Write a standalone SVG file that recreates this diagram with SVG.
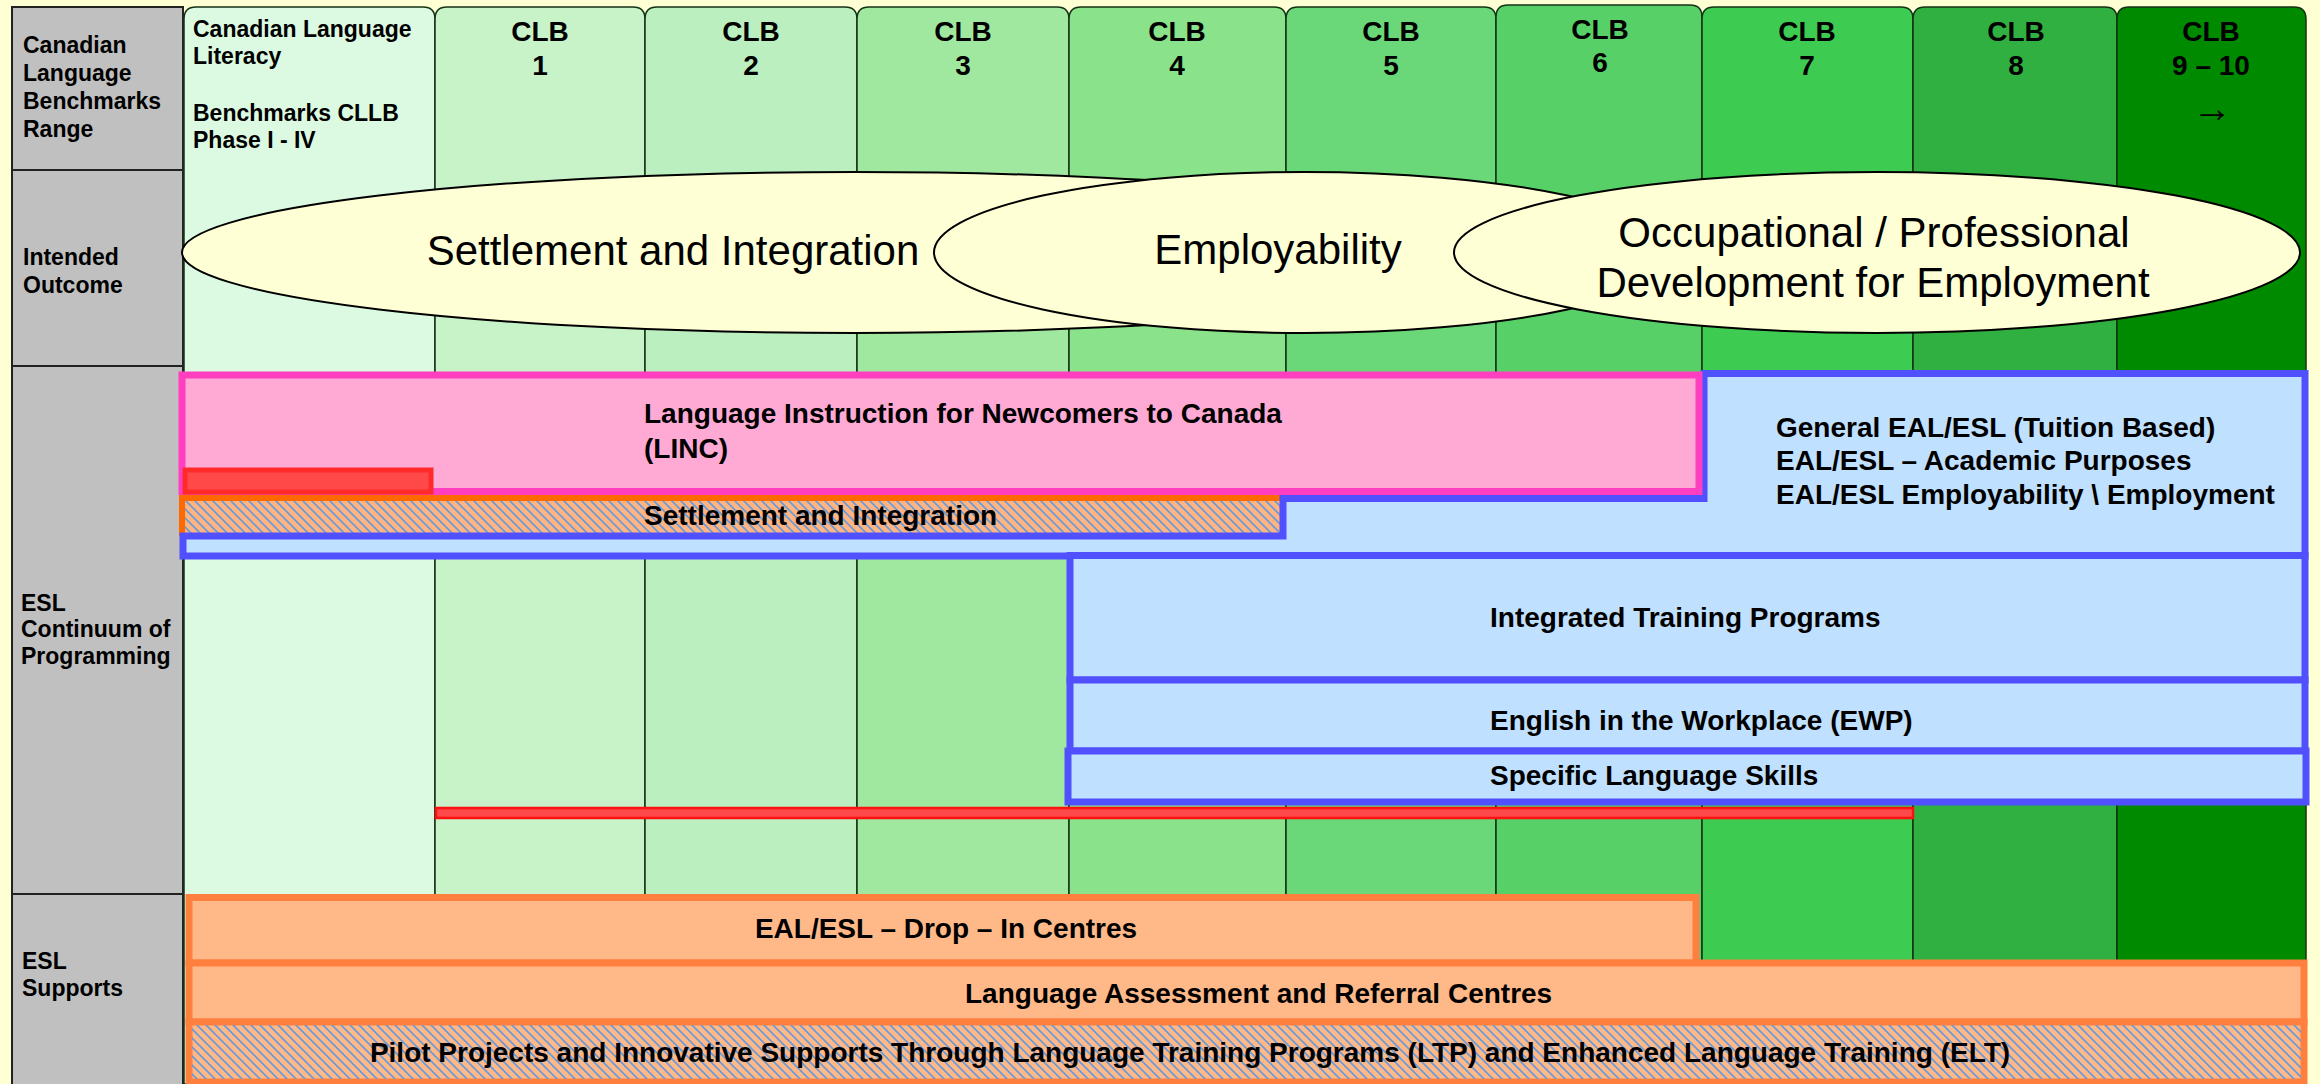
<svg xmlns="http://www.w3.org/2000/svg" width="2320" height="1084" viewBox="0 0 2320 1084">
<defs>
<pattern id="hatch" patternUnits="userSpaceOnUse" width="9" height="9">
<path d="M-1,-1 L10,10 M-1,8 L1,10 M8,-1 L10,1" stroke="#6A9BD8" stroke-width="1.7"/>
</pattern>
<style>
.lbl{font-family:"Liberation Sans",Arial,sans-serif;font-weight:bold;font-size:23px;fill:#000}
.hdr{font-family:"Liberation Sans",Arial,sans-serif;font-weight:bold;font-size:28px;fill:#000;text-anchor:middle}
.bar{font-family:"Liberation Sans",Arial,sans-serif;font-weight:bold;font-size:28px;fill:#000}
.big{font-family:"Liberation Sans",Arial,sans-serif;font-size:42px;fill:#000;text-anchor:middle}
.gray{fill:#C0C0C0;stroke:#222;stroke-width:2}
.col{stroke:#143214;stroke-width:1.5}
.ell{fill:#FFFFD6;stroke:#000;stroke-width:2}
.blue{fill:#C0E0FF;stroke:#5050FF;stroke-width:7}
.sup{fill:#FFB888;stroke:#FF7F3F;stroke-width:7}
</style>
</defs>
<rect x="0" y="0" width="2320" height="1084" fill="#FFFFD4"/>

<g id="label-column">
<rect class="gray" x="12" y="7" width="171" height="163"/>
<rect class="gray" x="12" y="170" width="171" height="196"/>
<rect class="gray" x="12" y="366" width="171" height="528"/>
<rect class="gray" x="12" y="894" width="171" height="200"/>
<text class="lbl" x="23" y="53">Canadian</text>
<text class="lbl" x="23" y="81">Language</text>
<text class="lbl" x="23" y="109">Benchmarks</text>
<text class="lbl" x="23" y="137">Range</text>
<text class="lbl" x="23" y="265">Intended</text>
<text class="lbl" x="23" y="293">Outcome</text>
<text class="lbl" x="21" y="611">ESL</text>
<text class="lbl" x="21" y="637">Continuum of</text>
<text class="lbl" x="21" y="664">Programming</text>
<text class="lbl" x="22" y="969">ESL</text>
<text class="lbl" x="22" y="996">Supports</text>
</g>

<g id="columns">
<path class="col" fill="#DCFAE1" d="M184,1084 V19 Q184,7 196,7 H423 Q435,7 435,19 V1084 Z"/>
<path class="col" fill="#C8F2C8" d="M435,1084 V19 Q435,7 447,7 H633 Q645,7 645,19 V1084 Z"/>
<path class="col" fill="#BCEFBF" d="M645,1084 V19 Q645,7 657,7 H845 Q857,7 857,19 V1084 Z"/>
<path class="col" fill="#A0E8A0" d="M857,1084 V19 Q857,7 869,7 H1057 Q1069,7 1069,19 V1084 Z"/>
<path class="col" fill="#8AE28A" d="M1069,1084 V19 Q1069,7 1081,7 H1274 Q1286,7 1286,19 V1084 Z"/>
<path class="col" fill="#6AD879" d="M1286,1084 V19 Q1286,7 1298,7 H1484 Q1496,7 1496,19 V1084 Z"/>
<path class="col" fill="#58D068" d="M1496,1084 V17 Q1496,5 1508,5 H1690 Q1702,5 1702,17 V1084 Z"/>
<path class="col" fill="#3DCB52" d="M1702,1084 V19 Q1702,7 1714,7 H1901 Q1913,7 1913,19 V1084 Z"/>
<path class="col" fill="#30B040" d="M1913,1084 V19 Q1913,7 1925,7 H2105 Q2117,7 2117,19 V1084 Z"/>
<path class="col" fill="#008A00" d="M2117,1084 V19 Q2117,7 2129,7 H2294 Q2306,7 2306,19 V1084 Z"/>
<text class="lbl" x="193" y="37">Canadian Language</text>
<text class="lbl" x="193" y="64">Literacy</text>
<text class="lbl" x="193" y="121">Benchmarks CLLB</text>
<text class="lbl" x="193" y="148">Phase I - IV</text>
<text class="hdr" x="540" y="41">CLB</text><text class="hdr" x="540" y="75">1</text>
<text class="hdr" x="751" y="41">CLB</text><text class="hdr" x="751" y="75">2</text>
<text class="hdr" x="963" y="41">CLB</text><text class="hdr" x="963" y="75">3</text>
<text class="hdr" x="1177" y="41">CLB</text><text class="hdr" x="1177" y="75">4</text>
<text class="hdr" x="1391" y="41">CLB</text><text class="hdr" x="1391" y="75">5</text>
<text class="hdr" x="1600" y="39">CLB</text><text class="hdr" x="1600" y="72">6</text>
<text class="hdr" x="1807" y="41">CLB</text><text class="hdr" x="1807" y="75">7</text>
<text class="hdr" x="2016" y="41">CLB</text><text class="hdr" x="2016" y="75">8</text>
<text class="hdr" x="2211" y="41">CLB</text><text class="hdr" x="2211" y="75">9 – 10</text>
<text x="2212" y="122" font-family="Liberation Sans,DejaVu Sans,sans-serif" font-size="40" text-anchor="middle">→</text>
</g>

<g id="outcomes">
<ellipse class="ell" cx="855" cy="252.5" rx="673" ry="80.5"/>
<text class="big" x="673" y="265">Settlement and Integration</text>
<ellipse class="ell" cx="1305" cy="252.5" rx="371" ry="80.5"/>
<text class="big" x="1278" y="264">Employability</text>
<ellipse class="ell" cx="1877" cy="252.5" rx="423" ry="80.5"/>
<text class="big" x="1874" y="247">Occupational / Professional</text>
<text class="big" x="1873" y="297">Development for Employment</text>
</g>

<g id="settlement-bar">
<rect x="182" y="498" width="1098" height="38" fill="#FFB482"/>
<rect x="182" y="498" width="1098" height="38" fill="url(#hatch)"/>
<path d="M182,536 V498 H1280" fill="none" stroke="#FF6A00" stroke-width="6"/>
</g>

<g id="general-eal">
<path class="blue" d="M183,536 H1283 V498.5 H1704 V373.5 H2305 V556 H183 Z"/>
<text class="bar" x="1776" y="437">General EAL/ESL (Tuition Based)</text>
<text class="bar" x="1776" y="470">EAL/ESL – Academic Purposes</text>
<text class="bar" x="1776" y="504">EAL/ESL Employability \ Employment</text>
</g>

<g id="linc">
<rect x="182" y="375" width="1517" height="116.5" fill="#FFAAD4" stroke="#FF3EC0" stroke-width="7"/>
<rect x="185" y="470" width="246" height="22" fill="#FF4848" stroke="#FF2A2A" stroke-width="5"/>
<text class="bar" x="644" y="423">Language Instruction for Newcomers to Canada</text>
<text class="bar" x="644" y="458">(LINC)</text>
</g>

<text class="bar" x="644" y="525">Settlement and Integration</text>

<g id="integrated">
<rect class="blue" x="1070" y="555.5" width="1235" height="124.5"/>
<text class="bar" x="1490" y="627">Integrated Training Programs</text>
</g>
<g id="ewp">
<rect class="blue" x="1070" y="680" width="1235" height="71"/>
<text class="bar" x="1490" y="730">English in the Workplace (EWP)</text>
</g>
<g id="specific">
<rect class="blue" x="1068" y="751" width="1238" height="51"/>
<text class="bar" x="1490" y="785">Specific Language Skills</text>
</g>

<g id="red-line">
<rect x="436" y="808" width="1477" height="10" fill="#FF4848" stroke="#FF1010" stroke-width="2.5"/>
</g>

<g id="drop-in">
<rect class="sup" x="189" y="897.5" width="1507" height="65.5"/>
<text class="bar" x="946" y="938" text-anchor="middle">EAL/ESL – Drop – In Centres</text>
</g>
<g id="assessment">
<rect class="sup" x="189" y="963" width="2115" height="59"/>
<text class="bar" x="965" y="1003">Language Assessment and Referral Centres</text>
</g>
<g id="pilot">
<rect class="sup" x="189" y="1022" width="2115" height="60"/>
<rect x="192" y="1025" width="2109" height="54" fill="url(#hatch)"/>
<text class="bar" x="1190" y="1062" text-anchor="middle" font-size="28.3">Pilot Projects and Innovative Supports Through Language Training Programs (LTP) and Enhanced Language Training (ELT)</text>
</g>
</svg>
